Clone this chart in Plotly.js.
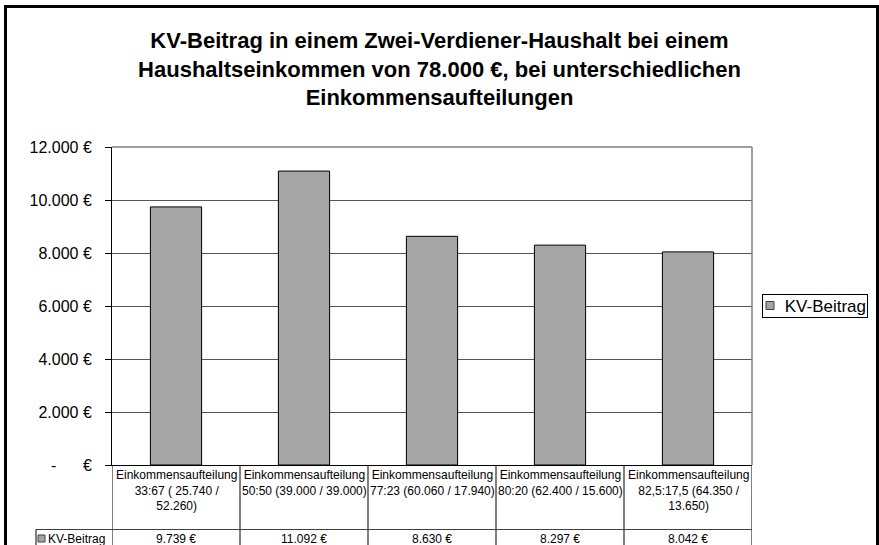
<!DOCTYPE html>
<html>
<head>
<meta charset="utf-8">
<script src="https://cdn.plot.ly/plotly-3.0.1.min.js"></script>
<style>
  html, body { margin: 0; padding: 0; background: #fff; }
  #wrap { position: relative; width: 879px; height: 545px; overflow: hidden; }
  #chart { width: 879px; height: 545px; }
  #frame { position: absolute; left: 4px; top: 5px; width: 875px; height: 620px;
           box-sizing: border-box; border: 3px solid #000; pointer-events: none; }
</style>
</head>
<body>
<div id="wrap"><div id="chart"></div><div id="frame"></div></div>
<script>
// ---- data ----
const chartTitle = 'KV-Beitrag in einem Zwei-Verdiener-Haushalt bei einem<br>Haushaltseinkommen von 78.000 €, bei unterschiedlichen<br>Einkommensaufteilungen';
const seriesName = 'KV-Beitrag';
const categories = [
  'Einkommensaufteilung<br>33:67 ( 25.740 /<br>52.260)',
  'Einkommensaufteilung<br>50:50 (39.000 / 39.000)',
  'Einkommensaufteilung<br>77:23 (60.060 / 17.940)',
  'Einkommensaufteilung<br>80:20 (62.400 / 15.600)',
  'Einkommensaufteilung<br>82,5:17,5 (64.350 /<br>13.650)'
];
const kvBeitrag = [9739, 11092, 8630, 8297, 8042];
const yTickVals = [0, 2000, 4000, 6000, 8000, 10000, 12000];
const yTickText = ['-\u00a0\u00a0\u00a0\u00a0\u00a0\u00a0€', '2.000 €', '4.000 €', '6.000 €', '8.000 €', '10.000 €', '12.000 €'];

// ---- helpers ----
function fmtEuro(v) {
  const s = String(Math.round(v));
  return s.replace(/\B(?=(\d{3})+(?!\d))/g, '.') + ' €';
}
const FONT = 'Liberation Sans, Arial, Helvetica, sans-serif';
const L = 112, R = 752, T = 147, B = 465;   // plot area in px
const px2x = p => (p - L) / (R - L);
const py2y = p => (B - p) / (B - T);

const xIdx = categories.map((_, i) => i);

const trace = {
  type: 'bar',
  x: xIdx,
  y: kvBeitrag,
  name: seriesName,
  width: 0.4,
  marker: { color: '#a5a5a5', line: { color: '#000', width: 1 } },
  hoverinfo: 'skip',
  showlegend: false
};

const shapes = [];
const annotations = [];

// plot area border (top/right grey)
shapes.push({ type: 'line', xref: 'paper', yref: 'paper', x0: 0, x1: 1, y0: 1, y1: 1, line: { color: '#808080', width: 1.5 } });
shapes.push({ type: 'line', xref: 'paper', yref: 'paper', x0: 1, x1: 1, y0: 0, y1: 1, line: { color: '#808080', width: 1.5 } });

// data table lines
for (let i = 0; i <= categories.length; i++) {
  shapes.push({ type: 'line', xref: 'x', yref: 'paper', x0: i - 0.5, x1: i - 0.5, y0: 0, y1: py2y(560), line: { color: '#000', width: 1 } });
}
shapes.push({ type: 'line', xref: 'paper', yref: 'paper', x0: px2x(36), x1: 1, y0: py2y(529.5), y1: py2y(529.5), line: { color: '#404040', width: 1 } });
shapes.push({ type: 'line', xref: 'paper', yref: 'paper', x0: px2x(36), x1: px2x(36), y0: py2y(529.5), y1: py2y(560), line: { color: '#000', width: 1 } });

// category labels in table
categories.forEach((c, i) => {
  annotations.push({ x: i, xref: 'x', y: 0, yref: 'paper', yanchor: 'top', yshift: -1,
    text: c, showarrow: false, font: { family: FONT, size: 12, color: '#000' }, align: 'center' });
  annotations.push({ x: i, xref: 'x', y: py2y(538.5), yref: 'paper', yanchor: 'middle',
    text: fmtEuro(kvBeitrag[i]), showarrow: false, font: { family: FONT, size: 12, color: '#000' } });
});
// table row key
shapes.push({ type: 'rect', xref: 'paper', yref: 'paper', x0: px2x(38), x1: px2x(45), y0: py2y(542), y1: py2y(535),
  fillcolor: '#a5a5a5', line: { color: '#404040', width: 1 } });
annotations.push({ x: px2x(46), xref: 'paper', y: py2y(538.5), yref: 'paper', xanchor: 'left', yanchor: 'middle',
  text: seriesName, showarrow: false, font: { family: FONT, size: 12, color: '#000' } });

// legend
annotations.push({ x: px2x(762), xref: 'paper', y: py2y(305.5), yref: 'paper', xanchor: 'left', yanchor: 'middle',
  text: seriesName, showarrow: false, width: 102, height: 20, align: 'right',
  bordercolor: '#000', borderwidth: 1, borderpad: 1,
  font: { family: FONT, size: 17, color: '#000' } });
shapes.push({ type: 'rect', xref: 'paper', yref: 'paper', x0: px2x(766), x1: px2x(774), y0: py2y(309.5), y1: py2y(301.5),
  fillcolor: '#a5a5a5', line: { color: '#404040', width: 1 } });

const layout = {
  width: 879, height: 545, autosize: false,
  margin: { l: L, r: 879 - R, t: T, b: 545 - B, pad: 0 },
  paper_bgcolor: '#fff', plot_bgcolor: '#fff',
  font: { family: FONT, color: '#000' },
  title: { text: '<b>' + chartTitle + '</b>', font: { family: FONT, size: 22, color: '#000' },
           x: 0.5, xref: 'container', xanchor: 'center', y: 1 - 48 / 545, yref: 'container', yanchor: 'middle' },
  showlegend: false,
  bargap: 0,
  xaxis: { type: 'linear', range: [-0.5, categories.length - 0.5], showticklabels: false, ticks: '',
           showgrid: false, zeroline: false, showline: true, linecolor: '#000', linewidth: 1, fixedrange: true },
  yaxis: { range: [0, 12000], tickvals: yTickVals, ticktext: yTickText, ticks: 'outside', ticklen: 6,
           tickcolor: '#000', tickwidth: 1, ticklabelstandoff: 10,
           tickfont: { family: FONT, size: 16, color: '#000' },
           showgrid: true, gridcolor: '#555', gridwidth: 1, zeroline: false,
           showline: true, linecolor: '#000', linewidth: 1, fixedrange: true },
  shapes: shapes,
  annotations: annotations
};

Plotly.newPlot('chart', [trace], layout, { displayModeBar: false, staticPlot: true });
</script>
</body>
</html>
